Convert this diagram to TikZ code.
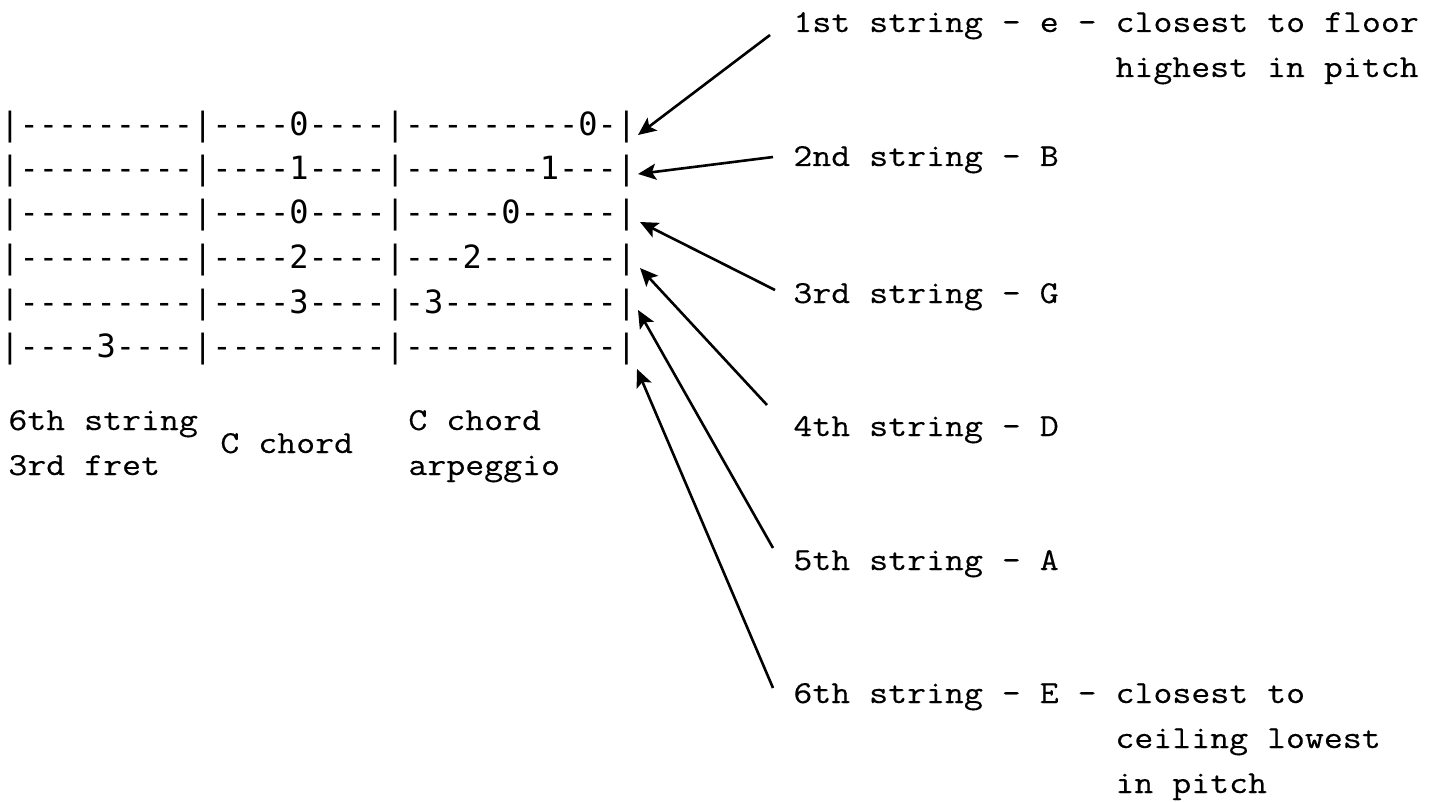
\documentclass[tikz,border=0pt]{standalone}
\usepackage{fontspec}
\usetikzlibrary{arrows.meta}
\newfontfamily\tabfont{DejaVu Sans Mono}[Ligatures=TeXOff]
\newfontfamily\lblfont{Latin Modern Mono}[Ligatures=TeXOff,FakeStretch=1.15,FakeBold=0.3]
\begin{document}
\begin{tikzpicture}[x=0.5pt,y=-0.5pt,
  tabrow/.style={anchor=base west,inner sep=0pt,font=\tabfont\fontsize{16pt}{16pt}\selectfont},
  lbl/.style={anchor=base west,inner sep=0pt,font=\lblfont\fontsize{16pt}{16pt}\selectfont},
  arr/.style={-{Stealth[length=9pt,width=8pt,inset=2pt]},line width=1.3pt}]
\useasboundingbox (0,0) rectangle (1444,802);
% tablature
\node[tabrow] (r1) at (0,136) {|---------|----0----|---------0-|};
\node[tabrow] (r2) at (0,180) {|---------|----1----|-------1---|};
\node[tabrow] (r3) at (0,224) {|---------|----0----|-----0-----|};
\node[tabrow] (r4) at (0,269) {|---------|----2----|---2-------|};
\node[tabrow] (r5) at (0,313) {|---------|----3----|-3---------|};
\node[tabrow] (r6) at (0,357) {|----3----|---------|-----------|};
% bottom labels
\node[lbl] (b1a) at (8,430) {6th string};
\node[lbl] (b1b) at (8,475) {3rd fret};
\node[lbl] (b2) at (220,453) {C chord};
\node[lbl] (b3a) at (408,430) {C chord};
\node[lbl] (b3b) at (408,475) {arpeggio};
% right labels
\node[lbl] (s1a) at (793,32) {1st string - e - closest to floor};
\node[lbl] (s1b) at (1115,77) {highest in pitch};
\node[lbl] (s2) at (793,166) {2nd string - B};
\node[lbl] (s3) at (793,303) {3rd string - G};
\node[lbl] (s4) at (793,436) {4th string - D};
\node[lbl] (s5) at (793,570) {5th string - A};
\node[lbl] (s6a) at (793,703) {6th string - E - closest to};
\node[lbl] (s6b) at (1115,748) {ceiling lowest};
\node[lbl] (s6c) at (1115,793) {in pitch};
% arrow ends
\coordinate (f1) at (770,35);  \coordinate (e1) at (638,135);
\coordinate (f2) at (773,157); \coordinate (e2) at (638,174);
\coordinate (f3) at (775,290); \coordinate (e3) at (640,222);
\coordinate (f4) at (767,405); \coordinate (e4) at (640,268);
\coordinate (f5) at (773,548); \coordinate (e5) at (638,310);
\coordinate (f6) at (773,688); \coordinate (e6) at (637,369);
\foreach \i in {1,...,6} \draw[arr] (f\i) -- (e\i);
\end{tikzpicture}
\end{document}
